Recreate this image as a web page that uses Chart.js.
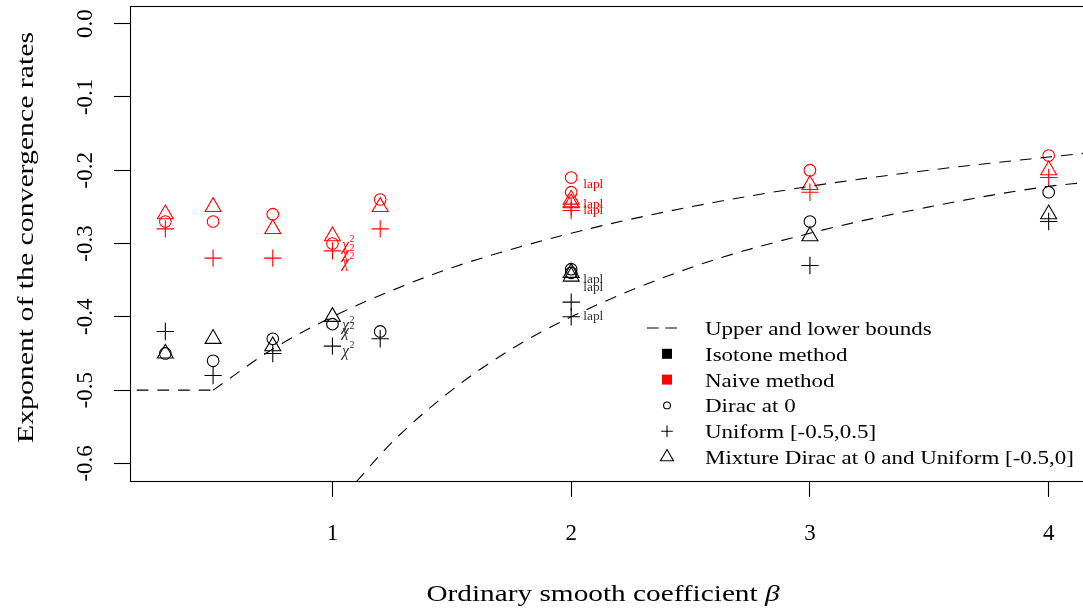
<!DOCTYPE html>
<html>
<head>
<meta charset="utf-8">
<script src="https://cdn.jsdelivr.net/npm/chart.js@4.4.1/dist/chart.umd.min.js"></script>
<style>
  html, body { margin: 0; padding: 0; background: #fff; overflow: hidden; }
  #wrap { position: relative; width: 1092px; height: 611px; }
</style>
</head>
<body>
<div id="wrap"><canvas id="rates"></canvas></div>
<script>
// smoothness values where the simulations were run
const betaGrid = [0.3, 0.5, 0.75, 1, 1.2, 2, 3, 4];

// isotone method (black)
const isotoneDirac   = [-0.45, -0.46, -0.43, -0.41, -0.42, -0.335, -0.27, -0.23];
const isotoneUniform = [-0.42, -0.48, -0.45, -0.44, -0.43, -0.38, -0.33, -0.27];
const isotoneMixture = [-0.45, -0.43, -0.44, -0.40, null, -0.34, -0.29, -0.26];

// naive method (red)
const naiveDirac   = [-0.27, -0.27, -0.26, -0.30, -0.24, -0.21, -0.20, -0.18];
const naiveUniform = [-0.28, -0.32, -0.32, -0.31, -0.28, -0.25, -0.23, -0.21];
const naiveMixture = [-0.26, -0.25, -0.28, -0.29, -0.25, -0.24, -0.22, -0.20];

// extra runs with laplace noise at beta = 2 (dirac, uniform, mixture)
const laplBeta = 2;
const isotoneLapl = [-0.34, -0.40, -0.345];
const naiveLapl = [-0.23, -0.255, -0.245];

// bounds
const upperFlatBeta = [0.18, 0.5];
const upperFlat = [-0.5, -0.5];
const upperBeta = [0.5, 0.75, 1, 1.25, 1.5, 2, 2.5, 3, 3.5, 4, 4.15];
const upperBound = [-0.5, -0.444, -0.4, -0.364, -0.333, -0.286, -0.25, -0.222, -0.2, -0.182, -0.177];
const lowerBeta = [1.1, 1.25, 1.5, 1.75, 2, 2.5, 3, 3.5, 4, 4.15];
const lowerBound = [-0.625, -0.571, -0.5, -0.444, -0.4, -0.333, -0.286, -0.25, -0.222, -0.217];

// text annotations
const chiBeta = 1;
const chiNaive = [-0.300, -0.312, -0.323];
const chiIsotone = [-0.410, -0.418, -0.445];
const laplNaive = [-0.220, -0.247, -0.256];
const laplIsotone = [-0.350, -0.360, -0.400];

const xTicks = [1, 2, 3, 4];
const yTicks = [0, -0.1, -0.2, -0.3, -0.4, -0.5, -0.6];
const yTickLabels = ["0.0", "-0.1", "-0.2", "-0.3", "-0.4", "-0.5", "-0.6"];

const legendLabels = [
  "Upper and lower bounds",
  "Isotone method",
  "Naive method",
  "Dirac at 0",
  "Uniform [-0.5,0.5]",
  "Mixture Dirac at 0 and Uniform [-0.5,0]",
];

const RED = "#ff0000";
const BLACK = "#000000";
const SERIF = '"Liberation Serif", "Times New Roman", serif';
const DASH = [11.7, 9];

function pairs(xs, ys) {
  return xs.map((x, i) => ({ x, y: ys[i] }));
}

function pointsFor(values, laplValue) {
  const pts = [];
  betaGrid.forEach((b, i) => {
    if (values[i] !== null) pts.push({ x: b, y: values[i] });
  });
  pts.push({ x: laplBeta, y: laplValue });
  return pts;
}

function boundLine(data) {
  return {
    data,
    showLine: true,
    borderColor: BLACK,
    borderWidth: 1.1,
    borderDash: DASH,
    pointRadius: 0,
    cubicInterpolationMode: "monotone",
    fill: false,
  };
}

function markers(data, color, style, radius) {
  return {
    data,
    showLine: false,
    pointStyle: style,
    pointRadius: radius,
    pointBorderColor: color,
    pointBackgroundColor: "rgba(0,0,0,0)",
    pointBorderWidth: 1.1,
  };
}

function stretched(ctx, text, x, y, sx) {
  ctx.save();
  ctx.translate(x, y);
  ctx.scale(sx, 1);
  ctx.fillText(text, 0, 0);
  ctx.restore();
}

function chiSquare(ctx, x, y, color) {
  ctx.save();
  ctx.fillStyle = color;
  ctx.textAlign = "left";
  ctx.textBaseline = "middle";
  ctx.font = "italic 16px " + SERIF;
  ctx.fillText("\u03c7", x, y + 2);
  const w = ctx.measureText("\u03c7").width;
  ctx.font = "10px " + SERIF;
  ctx.fillText("2", x + w + 0.5, y - 4);
  ctx.restore();
}

const textPlugin = {
  id: "rText",
  afterDraw(chart) {
    const { ctx, chartArea: area } = chart;
    const xs = chart.scales.x;
    const ys = chart.scales.y;

    // box round the plot
    ctx.save();
    ctx.strokeStyle = BLACK;
    ctx.lineWidth = 1.1;
    ctx.strokeRect(area.left + 0.5, area.top + 0.5, area.right - area.left, area.bottom - area.top);
    ctx.restore();

    ctx.save();
    ctx.fillStyle = BLACK;

    // y tick labels, turned like the axis
    ctx.font = "23px " + SERIF;
    ctx.textAlign = "center";
    ctx.textBaseline = "alphabetic";
    yTicks.forEach((v, i) => {
      ctx.save();
      ctx.translate(92, ys.getPixelForValue(v));
      ctx.rotate(-Math.PI / 2);
      ctx.fillText(yTickLabels[i], 0, 0);
      ctx.restore();
    });

    // x tick labels
    xTicks.forEach((v) => {
      ctx.fillText(String(v), xs.getPixelForValue(v), 540);
    });

    // axis titles
    ctx.font = "24px " + SERIF;
    ctx.save();
    ctx.translate(33, (area.top + area.bottom) / 2 - 6);
    ctx.rotate(-Math.PI / 2);
    ctx.scale(1.24, 1);
    ctx.fillText("Exponent of the convergence rates", 0, 0);
    ctx.restore();

    const xTitle = "Ordinary smooth coefficient ";
    ctx.textAlign = "left";
    const sx = 1.22;
    const w1 = ctx.measureText(xTitle).width * sx;
    ctx.font = "italic 24px " + SERIF;
    const w2 = ctx.measureText("\u03b2").width * sx;
    const x0 = (area.left + area.right) / 2 - 4 - (w1 + w2) / 2;
    ctx.font = "24px " + SERIF;
    stretched(ctx, xTitle, x0, 601, sx);
    ctx.font = "italic 24px " + SERIF;
    stretched(ctx, "\u03b2", x0 + w1, 601, sx);

    // chi-square and laplace annotations
    const cx = xs.getPixelForValue(chiBeta) + 9.5;
    chiNaive.forEach((v) => chiSquare(ctx, cx, ys.getPixelForValue(v), RED));
    chiIsotone.forEach((v) => chiSquare(ctx, cx, ys.getPixelForValue(v), "#333333"));

    const lx = xs.getPixelForValue(laplBeta) + 12;
    ctx.font = "12px " + SERIF;
    ctx.textBaseline = "middle";
    ctx.fillStyle = RED;
    laplNaive.forEach((v) => stretched(ctx, "lapl", lx, ys.getPixelForValue(v), 1.12));
    ctx.fillStyle = "#333333";
    laplIsotone.forEach((v) => stretched(ctx, "lapl", lx, ys.getPixelForValue(v), 1.12));

    // legend
    const symX = 667;
    const textX = 705;
    ctx.font = "19px " + SERIF;
    ctx.textBaseline = "alphabetic";
    ctx.fillStyle = BLACK;
    legendLabels.forEach((label, i) => {
      const base = 335 + i * 25.8;
      const cy = base - 7;
      stretched(ctx, label, textX, base, 1.21);
      ctx.save();
      ctx.strokeStyle = BLACK;
      ctx.lineWidth = 1.1;
      if (i === 0) {
        ctx.setLineDash([11.7, 6.6]);
        ctx.beginPath();
        ctx.moveTo(647, cy);
        ctx.lineTo(677, cy);
        ctx.stroke();
      } else if (i === 1 || i === 2) {
        ctx.fillStyle = i === 1 ? BLACK : RED;
        ctx.fillRect(symX - 5, cy - 5, 10, 10);
      } else {
        ctx.fillStyle = "rgba(0,0,0,0)";
        const style = ["circle", "cross", "triangle"][i - 3];
        const radius = [3.4, 5.8, 7.5][i - 3];
        Chart.helpers.drawPoint(ctx, { pointStyle: style, radius, borderWidth: 1.1, rotation: 0 }, symX, cy);
      }
      ctx.restore();
    });

    ctx.restore();
  },
};

new Chart(document.getElementById("rates"), {
  type: "scatter",
  data: {
    datasets: [
      boundLine(pairs(upperFlatBeta, upperFlat)),
      boundLine(pairs(upperBeta, upperBound)),
      boundLine(pairs(lowerBeta, lowerBound)),
      markers(pointsFor(isotoneDirac, isotoneLapl[0]), BLACK, "circle", 5.8),
      markers(pointsFor(isotoneUniform, isotoneLapl[1]), BLACK, "cross", 8.7),
      markers(pointsFor(isotoneMixture, isotoneLapl[2]), BLACK, "triangle", 9.2),
      markers(pointsFor(naiveDirac, naiveLapl[0]), RED, "circle", 5.8),
      markers(pointsFor(naiveUniform, naiveLapl[1]), RED, "cross", 8.7),
      markers(pointsFor(naiveMixture, naiveLapl[2]), RED, "triangle", 9.2),
    ],
  },
  options: {
    responsive: true,
    maintainAspectRatio: false,
    animation: false,
    events: [],
    devicePixelRatio: 1,
    layout: { autoPadding: false, padding: { top: 6, right: 8, left: 0, bottom: 0 } },
    plugins: {
      legend: { display: false },
      tooltip: { enabled: false },
    },
    scales: {
      x: {
        type: "linear",
        min: 0.152,
        max: 4.148,
        afterBuildTicks: (scale) => {
          scale.ticks = xTicks.map((v) => ({ value: v }));
        },
        afterFit: (scale) => {
          scale.height = 130;
        },
        ticks: { display: false },
        border: { display: false },
        grid: {
          drawOnChartArea: false,
          drawTicks: true,
          tickLength: 16,
          tickColor: BLACK,
          tickWidth: 1.1,
        },
      },
      y: {
        type: "linear",
        min: -0.624,
        max: 0.024,
        afterBuildTicks: (scale) => {
          scale.ticks = yTicks.map((v) => ({ value: v }));
        },
        afterFit: (scale) => {
          scale.width = 130;
        },
        ticks: { display: false },
        border: { display: false },
        grid: {
          drawOnChartArea: false,
          drawTicks: true,
          tickLength: 16,
          tickColor: BLACK,
          tickWidth: 1.1,
        },
      },
    },
  },
  plugins: [textPlugin],
});
</script>
</body>
</html>
